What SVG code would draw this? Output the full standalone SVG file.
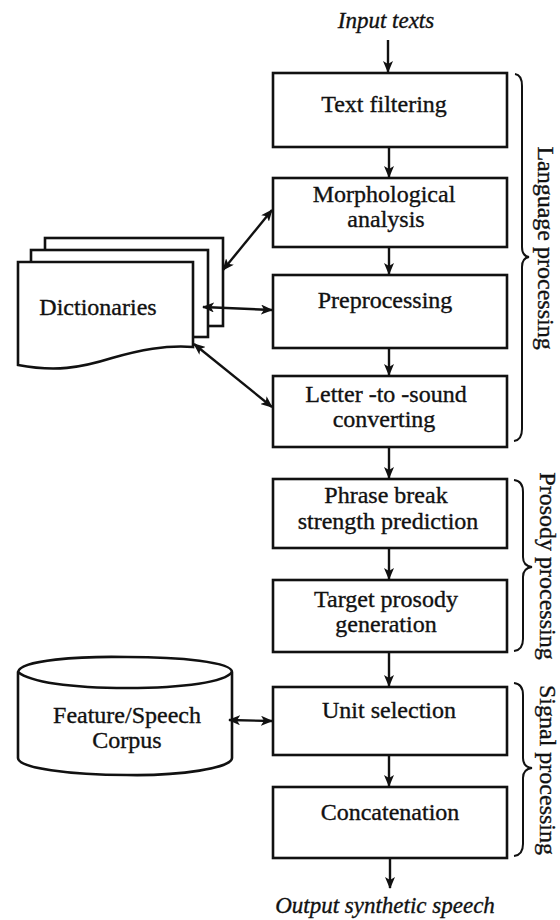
<svg xmlns="http://www.w3.org/2000/svg" width="560" height="920" viewBox="0 0 560 920">
<style>
text{font-family:"Liberation Serif","Times New Roman",serif;font-size:24px;fill:#111;stroke:#111;stroke-width:0.35;text-anchor:middle}
.it{font-style:italic;font-size:23px}
.box{fill:#fff;stroke:#111;stroke-width:2.6}
.ln{fill:none;stroke:#111;stroke-width:2.4}
.br{fill:none;stroke:#111;stroke-width:2}
</style>
<defs>
<marker id="ah" viewBox="0 0 12 10" refX="11" refY="5" markerWidth="12" markerHeight="10" markerUnits="userSpaceOnUse" orient="auto-start-reverse">
<path d="M0,0 L12,5 L0,10 L3,5 Z" fill="#111"/>
</marker>
</defs>
<rect width="560" height="920" fill="#fff"/>

<text class="it" x="386" y="28">Input texts</text>
<text class="it" x="385" y="913">Output synthetic speech</text>

<g id="text-filtering"><rect class="box" x="273" y="73" width="234" height="74"/><text x="384" y="112">Text filtering</text></g>
<g id="morphological"><rect class="box" x="273" y="178" width="234" height="69"/><text x="384" y="202">Morphological</text><text x="386" y="227">analysis</text></g>
<g id="preprocessing"><rect class="box" x="273" y="275" width="234" height="73"/><text x="385" y="308">Preprocessing</text></g>
<g id="letter-to-sound"><rect class="box" x="273" y="376" width="234" height="71"/><text x="386" y="402">Letter -to -sound</text><text x="384" y="427">converting</text></g>
<g id="phrase-break"><rect class="box" x="273" y="479" width="234" height="69"/><text x="386" y="503">Phrase break</text><text x="388" y="529">strength prediction</text></g>
<g id="target-prosody"><rect class="box" x="273" y="580" width="234" height="72"/><text x="386" y="607">Target prosody</text><text x="386" y="632">generation</text></g>
<g id="unit-selection"><rect class="box" x="273" y="687" width="234" height="68"/><text x="389" y="718">Unit selection</text></g>
<g id="concatenation"><rect class="box" x="273" y="787" width="234" height="71"/><text x="390" y="820">Concatenation</text></g>

<g id="dictionaries">
<rect class="box" x="45" y="238" width="178" height="88"/>
<rect class="box" x="31" y="250" width="177" height="87"/>
<path class="box" d="M18,262 L193,262 L193,347 C165,345 140,350 112,358 C80,368 55,372 18,365 Z"/>
<text x="98" y="315">Dictionaries</text>
</g>

<g id="corpus">
<path class="box" d="M18,672 C20,660 80,656 127,657 C180,657 232,662 232,672 L232,758 C232,768 180,776 127,775 C70,775 18,768 18,758 Z"/>
<path class="ln" d="M18,672 C30,682 70,688 127,688 C185,688 225,682 232,672"/>
<text x="127" y="723">Feature/Speech</text>
<text x="127" y="748">Corpus</text>
</g>

<g id="connectors">
<line class="ln" x1="388" y1="40" x2="388" y2="72" marker-end="url(#ah)"/>
<line class="ln" x1="389" y1="147" x2="389" y2="177" marker-end="url(#ah)"/>
<line class="ln" x1="389" y1="247" x2="389" y2="274" marker-end="url(#ah)"/>
<line class="ln" x1="389" y1="348" x2="389" y2="375" marker-end="url(#ah)"/>
<line class="ln" x1="389" y1="447" x2="389" y2="478" marker-end="url(#ah)"/>
<line class="ln" x1="389" y1="548" x2="389" y2="579" marker-end="url(#ah)"/>
<line class="ln" x1="389" y1="652" x2="389" y2="686" marker-end="url(#ah)"/>
<line class="ln" x1="389" y1="755" x2="389" y2="786" marker-end="url(#ah)"/>
<line class="ln" x1="390" y1="858" x2="390" y2="888" marker-end="url(#ah)"/>
<line class="ln" x1="223" y1="270" x2="272" y2="210" marker-start="url(#ah)" marker-end="url(#ah)"/>
<line class="ln" x1="203" y1="307" x2="272" y2="310" marker-start="url(#ah)" marker-end="url(#ah)"/>
<line class="ln" x1="194" y1="344" x2="272" y2="407" marker-start="url(#ah)" marker-end="url(#ah)"/>
<line class="ln" x1="229" y1="720" x2="272" y2="721" marker-start="url(#ah)" marker-end="url(#ah)"/>
</g>

<g id="braces">
<path class="br" d="M515,74 Q522,75 522,86 L522,247 Q522,256 529,257 Q522,258 522,267 L522,429 Q522,440 514,441"/>
<path class="br" d="M514,480 Q523,481 523,492 L523,557 Q523,566 532,567 Q523,568 523,577 L523,639 Q523,650 514,651"/>
<path class="br" d="M514,683 Q523,684 523,695 L523,758 Q523,767 532,768 Q523,769 523,778 L523,844 Q523,855 514,856"/>
</g>
<text transform="translate(538,248) rotate(90)">Language processing</text>
<text transform="translate(540,566) rotate(90)">Prosody processing</text>
<text transform="translate(540,770) rotate(90)">Signal processing</text>
</svg>
